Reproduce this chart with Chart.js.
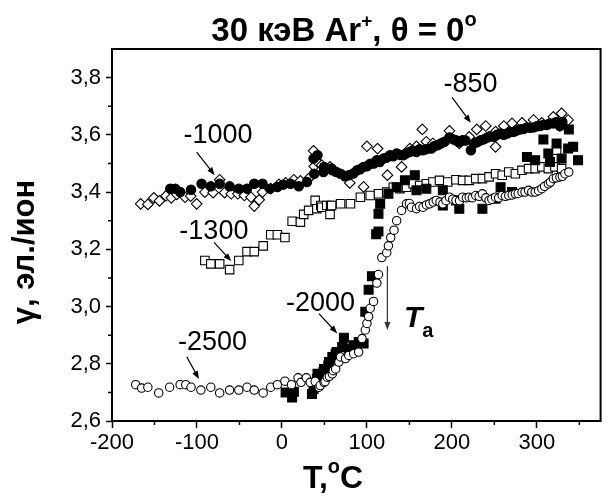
<!DOCTYPE html>
<html><head><meta charset="utf-8">
<script src="https://cdn.jsdelivr.net/npm/chart.js@4/dist/chart.umd.min.js"></script>
<style>html,body{margin:0;padding:0;background:#fff;} #c{display:block;}</style>
</head><body>
<canvas id="c" width="608" height="500"></canvas>
<script>
// ---- tick values ----
const xTicks = [-200, -100, 0, 100, 200, 300];
const xMinorTicks = [-150, -50, 50, 150, 250, 350];
const yTicks = [2.6, 2.8, 3.0, 3.2, 3.4, 3.6, 3.8];
const yMinorTicks = [2.7, 2.9, 3.1, 3.3, 3.5, 3.7];

// ---- series: -850 V (open diamonds) ----
const t850 = [-166.3,-157.8,-150.8,-144.2,-136.4,-130.2,-123.7,-114.0,-107.4,-100.4,-90.7,-81.0,-73.3,-67.5,-59.7,-51.9,-44.2,-36.4,-32.6,-26.8,-22.9,-13.2,-3.5,4.3,13.9,21.7,31.4,37.2,38.0,41.8,46.9,56.6,79.8,96.1,100.0,112.5,124.1,140.8,150.5,158.3,165.2,169.9,177.7,197.1,208.7,220.4,229.3,239.8,251.4,251.4,261.1,270.8,282.5,296.1,305.8,319.4,327.1,329.1,336.8];
const g850 = [3.359,3.357,3.380,3.369,3.387,3.380,3.392,3.382,3.386,3.359,3.400,3.398,3.443,3.398,3.394,3.394,3.388,3.382,3.351,3.373,3.400,3.412,3.427,3.432,3.443,3.439,3.447,3.544,3.490,3.505,3.494,3.488,3.432,3.418,3.560,3.552,3.459,3.488,3.552,3.560,3.619,3.576,3.570,3.614,3.570,3.593,3.619,3.631,3.611,3.558,3.631,3.640,3.642,3.652,3.642,3.663,3.631,3.675,3.652];

// ---- series: -1000 V (filled circles) ----
const t1000 = [-131.4,-125.6,-119.8,-107.0,-94.6,-83.7,-73.3,-61.6,-50.8,-41.1,-32.6,-22.9,-14.0,-5.4,1.5,10.1,19.8,29.4,37.2,38.0,41.8,48.8,49.6,58.5,59.3,64.0,69.0,74.0,78.7,84.0,88.4,92.0,96.1,100.0,103.9,108.0,111.7,115.0,119.4,123.0,127.2,131.0,135.0,139.0,142.7,146.0,150.5,154.0,158.3,162.0,166.0,170.0,175.7,179.0,183.5,187.0,191.3,197.1,201.0,204.8,208.0,212.6,216.0,222.3,226.2,230.0,234.0,238.0,241.7,245.0,249.5,253.0,257.3,261.0,265.0,269.0,272.8,276.0,280.5,284.0,288.3,292.0,296.1,300.0,303.8,308.0,311.6,315.0,319.4,323.0,327.1,330.0];
const g1000 = [3.412,3.412,3.400,3.408,3.429,3.420,3.429,3.420,3.412,3.412,3.429,3.429,3.412,3.418,3.426,3.429,3.420,3.435,3.517,3.464,3.529,3.470,3.488,3.482,3.476,3.470,3.464,3.455,3.459,3.465,3.476,3.480,3.488,3.490,3.499,3.500,3.511,3.505,3.517,3.520,3.529,3.525,3.535,3.530,3.529,3.535,3.540,3.545,3.540,3.550,3.546,3.550,3.552,3.560,3.564,3.570,3.576,3.591,3.585,3.581,3.575,3.581,3.580,3.546,3.570,3.575,3.581,3.585,3.591,3.595,3.593,3.600,3.605,3.600,3.605,3.610,3.611,3.615,3.619,3.620,3.626,3.625,3.626,3.630,3.631,3.635,3.634,3.640,3.640,3.645,3.631,3.645];

// ---- series: -1300 V (open squares) ----
const t1300 = [-90.7,-83.7,-73.3,-61.6,-50.8,-41.1,-32.6,-22.1,-13.2,-5.4,3.5,12.0,21.7,25.6,31.4,39.1,41.1,45.7,46.9,52.7,56.6,57.3,58.5,69.0,80.6,92.3,103.9,113.6,123.3,131.1,138.9,146.6,154.4,162.1,169.9,177.7,185.4,195.1,204.8,212.6,220.4,228.1,235.9,243.7,251.4,259.2,266.9,274.7,282.5,290.2,298.0,305.8,313.5,321.3,323.2,329.1];
const g1300 = [3.161,3.149,3.149,3.129,3.161,3.192,3.192,3.212,3.251,3.251,3.241,3.298,3.295,3.322,3.336,3.371,3.342,3.353,3.347,3.353,3.322,3.353,3.353,3.359,3.359,3.382,3.388,3.394,3.400,3.417,3.412,3.417,3.429,3.423,3.429,3.435,3.441,3.435,3.443,3.441,3.441,3.447,3.447,3.453,3.464,3.459,3.470,3.464,3.476,3.482,3.482,3.488,3.482,3.488,3.546,3.482];

// ---- series: -2000 V (filled squares) ----
const t2000 = [4.3,12.0,14.0,35.3,37.2,41.1,41.8,48.8,49.6,54.6,55.4,59.3,60.4,63.2,64.3,70.9,72.9,78.7,84.5,90.3,96.1,98.1,102.0,105.9,110.9,113.6,113.6,115.6,125.3,135.0,144.7,156.3,158.3,169.9,189.3,189.3,204.8,208.7,235.9,251.4,257.3,270.8,288.3,298.0,307.7,313.5,315.5,323.2,329.1,336.8,337.6,342.7,348.5];
const g2000 = [2.700,2.682,2.702,2.694,2.712,2.747,2.765,2.771,2.782,2.794,2.806,2.824,2.818,2.835,2.841,2.859,2.891,2.853,2.865,2.876,2.871,2.982,3.059,3.106,3.253,3.262,3.324,3.359,3.394,3.417,3.441,3.459,3.406,3.412,3.406,3.353,3.371,3.342,3.342,3.377,3.417,3.400,3.523,3.511,3.584,3.535,3.505,3.570,3.517,3.552,3.619,3.558,3.511];

// ---- series: -2500 V (open circles) ----
const t2500 = [-172.1,-165.1,-157.8,-145.0,-132.2,-119.8,-113.2,-107.0,-95.4,-83.7,-73.3,-61.6,-50.8,-41.1,-32.6,-22.1,-13.2,-5.4,3.5,11.2,19.0,22.5,28.7,33.3,39.1,43.7,45.0,49.6,50.8,53.4,55.8,59.3,60.4,63.2,67.0,69.0,74.8,78.7,84.5,90.3,94.2,98.1,100.0,102.0,103.9,107.8,111.7,113.6,117.5,123.3,125.3,128.0,131.9,135.0,140.8,146.6,150.0,152.4,158.3,162.0,166.0,170.0,173.8,178.0,181.6,186.0,189.3,193.0,197.1,201.0,204.8,209.0,212.6,217.0,220.4,224.0,228.1,232.0,235.9,240.0,243.7,247.0,251.4,255.0,259.2,263.0,266.9,271.0,274.7,278.0,282.5,286.0,290.2,294.0,298.0,302.0,305.8,309.0,313.5,316.0,319.4,323.0,327.1,330.0,333.0,337.6];
const g2500 = [2.727,2.715,2.718,2.698,2.718,2.727,2.727,2.718,2.708,2.718,2.698,2.708,2.708,2.718,2.708,2.698,2.718,2.727,2.739,2.727,2.751,2.735,2.751,2.735,2.738,2.718,2.724,2.735,2.738,2.753,2.756,2.765,2.776,2.782,2.806,2.824,2.818,2.829,2.835,2.841,2.888,2.918,2.941,2.965,2.994,3.018,3.082,3.112,3.171,3.188,3.212,3.241,3.267,3.300,3.336,3.359,3.360,3.347,3.342,3.350,3.347,3.355,3.359,3.365,3.371,3.365,3.359,3.370,3.382,3.375,3.371,3.370,3.382,3.380,3.382,3.380,3.388,3.385,3.394,3.380,3.371,3.375,3.382,3.380,3.388,3.385,3.388,3.390,3.394,3.395,3.400,3.400,3.406,3.400,3.400,3.405,3.412,3.420,3.429,3.435,3.447,3.450,3.453,3.455,3.464,3.470];

const seriesNames = ["-850", "-1000", "-1300", "-2000", "-2500"];

const FONT = '"Liberation Sans", Arial, Helvetica, sans-serif';
const pts = (xs, ys) => xs.map((v, i) => ({x: v, y: ys[i]}));

// annotation labels (data coordinates)
const labelTexts = [
  {text: "-850",  x: 221.9, y: 3.751},
  {text: "-1000", x: -75.2, y: 3.570},
  {text: "-1300", x: -80.1, y: 3.236},
  {text: "-2000", x: 45.5,  y: 2.985},
  {text: "-2500", x: -81.6, y: 2.847}
];
const labelArrows = [
  {x1: 200.2, y1: 3.731, x2: 222.3, y2: 3.642},
  {x1: -100.4, y1: 3.540, x2: -79.1, y2: 3.459},
  {x1: -79.9, y1: 3.224, x2: -59.7, y2: 3.159},
  {x1: 43.5, y1: 2.975, x2: 65.1, y2: 2.906},
  {x1: -112.0, y1: 2.824, x2: -97.7, y2: 2.747}
];
const taArrow = {x1: 124.1, y1: 3.141, x2: 124.1, y2: 2.918};
const taLabel = {x: 143.5, y: 2.929};

function richText(ctx, parts, cx, baseY, align) {
  let total = 0;
  parts.forEach(p => { ctx.font = p.font; p.w = ctx.measureText(p.t).width; total += p.w; });
  let xx = align === 'left' ? cx : cx - total / 2;
  ctx.textAlign = 'left';
  ctx.textBaseline = 'alphabetic';
  parts.forEach(p => { ctx.font = p.font; ctx.fillText(p.t, xx, baseY + (p.dy || 0)); xx += p.w; });
}

function arrow(ctx, x1, y1, x2, y2, color) {
  const ang = Math.atan2(y2 - y1, x2 - x1);
  const L = 8, W = 3;
  ctx.strokeStyle = color; ctx.fillStyle = color; ctx.lineWidth = 1.2;
  ctx.beginPath();
  ctx.moveTo(x1, y1);
  ctx.lineTo(x2 - Math.cos(ang) * L * 0.8, y2 - Math.sin(ang) * L * 0.8);
  ctx.stroke();
  ctx.beginPath();
  ctx.moveTo(x2, y2);
  ctx.lineTo(x2 - Math.cos(ang) * L - Math.sin(ang) * W, y2 - Math.sin(ang) * L + Math.cos(ang) * W);
  ctx.lineTo(x2 - Math.cos(ang) * L + Math.sin(ang) * W, y2 - Math.sin(ang) * L - Math.cos(ang) * W);
  ctx.closePath();
  ctx.fill();
}

const deco = {
  id: 'deco',
  afterDraw(chart) {
    const {ctx, chartArea: a, scales: {x, y}} = chart;
    ctx.save();
    // frame
    ctx.strokeStyle = '#000';
    ctx.lineWidth = 2;
    ctx.strokeRect(a.left, a.top, a.right - a.left, a.bottom - a.top);
    // minor ticks
    ctx.lineWidth = 1.5;
    ctx.beginPath();
    xMinorTicks.forEach(v => { const p = x.getPixelForValue(v); ctx.moveTo(p, a.bottom); ctx.lineTo(p, a.bottom + 4); });
    yMinorTicks.forEach(v => { const p = y.getPixelForValue(v); ctx.moveTo(a.left, p); ctx.lineTo(a.left - 4, p); });
    ctx.stroke();
    ctx.fillStyle = '#000';
    // chart title
    richText(ctx, [
      {t: '30 кэВ Ar', font: 'bold 33px ' + FONT},
      {t: '+', font: 'bold 19px ' + FONT, dy: -14},
      {t: ', θ = 0', font: 'bold 33px ' + FONT},
      {t: 'o', font: 'bold 20px ' + FONT, dy: -15}
    ], 344, 41);
    // x axis title
    ctx.fillStyle = '#000';
    richText(ctx, [
      {t: 'T,', font: 'bold 32px ' + FONT},
      {t: 'o', font: 'bold 20px ' + FONT, dy: -15},
      {t: 'C', font: 'bold 32px ' + FONT}
    ], 333, 488);
    // y axis title
    ctx.save();
    ctx.translate(33.5, 252);
    ctx.rotate(-Math.PI / 2);
    ctx.font = 'bold 31px ' + FONT;
    ctx.textAlign = 'center';
    ctx.textBaseline = 'alphabetic';
    ctx.fillText('γ, эл./ион', 0, 0);
    ctx.restore();
    // series labels
    ctx.font = '27px ' + FONT;
    ctx.textAlign = 'center';
    ctx.textBaseline = 'alphabetic';
    labelTexts.forEach(l => ctx.fillText(l.text, x.getPixelForValue(l.x), y.getPixelForValue(l.y)));
    labelArrows.forEach(r => arrow(ctx, x.getPixelForValue(r.x1), y.getPixelForValue(r.y1), x.getPixelForValue(r.x2), y.getPixelForValue(r.y2), '#000'));
    // T_a
    arrow(ctx, x.getPixelForValue(taArrow.x1), y.getPixelForValue(taArrow.y1), x.getPixelForValue(taArrow.x2), y.getPixelForValue(taArrow.y2), '#333');
    ctx.fillStyle = '#000';
    richText(ctx, [
      {t: 'T', font: 'italic bold 30px ' + FONT},
      {t: 'a', font: 'bold 20px ' + FONT, dy: 10}
    ], x.getPixelForValue(taLabel.x), y.getPixelForValue(taLabel.y), 'left');
    ctx.restore();
  }
};

const common = {showLine: false, borderColor: '#000', borderWidth: 1.1};
new Chart(document.getElementById('c'), {
  type: 'scatter',
  data: {
    datasets: [
      Object.assign({label: seriesNames[4], data: pts(t2500, g2500), pointStyle: 'circle', pointRadius: 4.2, backgroundColor: '#fff'}, common),
      Object.assign({label: seriesNames[3], data: pts(t2000, g2000), pointStyle: 'rect', pointRadius: 6.3, backgroundColor: '#000'}, common),
      Object.assign({label: seriesNames[2], data: pts(t1300, g1300), pointStyle: 'rect', pointRadius: 6.0, backgroundColor: '#fff'}, common),
      Object.assign({label: seriesNames[1], data: pts(t1000, g1000), pointStyle: 'circle', pointRadius: 4.7, backgroundColor: '#000'}, common),
      Object.assign({label: seriesNames[0], data: pts(t850, g850), pointStyle: 'rectRot', pointRadius: 5.3, backgroundColor: '#fff'}, common)
    ]
  },
  options: {
    responsive: false,
    animation: false,
    layout: {padding: {top: 49, right: 3, left: 0, bottom: 0}},
    plugins: {legend: {display: false}, tooltip: {enabled: false}, title: {display: false}},
    scales: {
      x: {
        type: 'linear', min: -200, max: 375,
        afterFit: s => { s.height = 79; },
        afterBuildTicks: s => { s.ticks = xTicks.map(v => ({value: v})); },
        border: {display: false},
        grid: {drawOnChartArea: false, drawTicks: true, tickLength: 7, tickColor: '#000', tickWidth: 1.5},
        ticks: {color: '#000', font: {family: FONT, size: 22}, padding: 2, maxRotation: 0, autoSkip: false, callback: v => String(v)}
      },
      y: {
        type: 'linear', min: 2.6, max: 3.9,
        afterFit: s => { s.width = 112; },
        afterBuildTicks: s => { s.ticks = yTicks.map(v => ({value: v})); },
        border: {display: false},
        grid: {drawOnChartArea: false, drawTicks: true, tickLength: 6, tickColor: '#000', tickWidth: 1.5},
        ticks: {color: '#000', font: {family: FONT, size: 22}, padding: 5, autoSkip: false, callback: v => v.toFixed(1).replace('.', ',')}
      }
    }
  },
  plugins: [deco]
});
</script>
</body></html>
